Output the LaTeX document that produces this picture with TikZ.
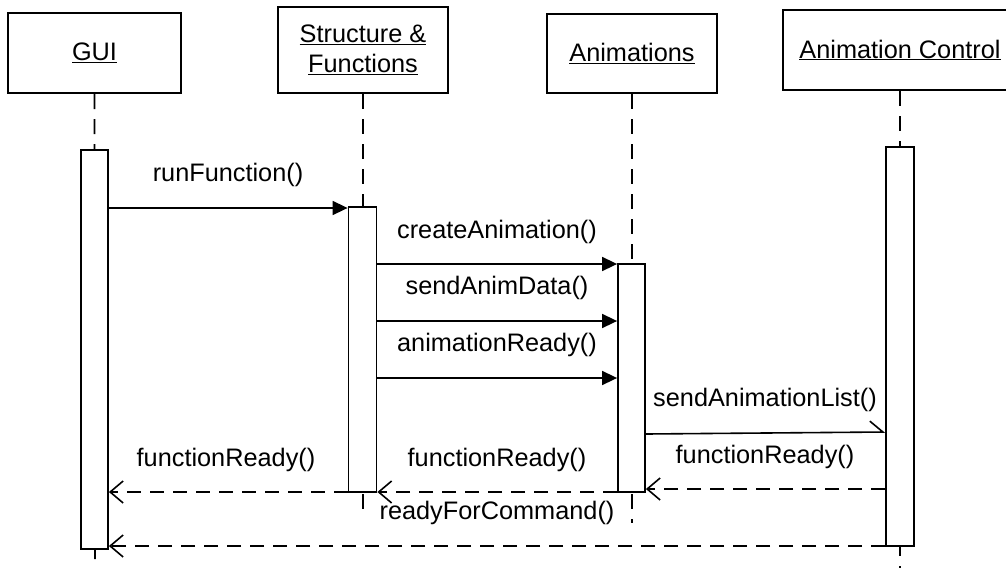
\documentclass[tikz,border=0pt]{standalone}
\usepackage{fontspec}
\setmainfont{Liberation Sans}
\usetikzlibrary{arrows.meta}
\begin{document}
\begin{tikzpicture}[x=1pt,y=-1pt,
  obj/.style={draw, line width=2pt, fill=white, inner sep=0pt, align=center,
    font=\fontsize{25.3}{30}\selectfont},
  bar/.style={draw, line width=1.8pt, fill=white, inner sep=0pt},
  life/.style={line width=1.8pt, dash pattern=on 15pt off 10pt},
  msg/.style={line width=1.6pt, -{Triangle[length=15pt,width=14pt]}},
  async/.style={line width=1.6pt, -{Straight Barb[harpoon,length=13pt,width=22pt]}},
  ret/.style={line width=1.6pt, dash pattern=on 14pt off 9pt,
    -{Straight Barb[length=13pt,width=22pt]}},
  lbl/.style={font=\fontsize{25.3}{30}\selectfont, inner sep=0pt},
]
\useasboundingbox (0,0) rectangle (1006,568);
\clip (0,0) rectangle (1006,568);

% objects
\node[obj, minimum width=173pt, minimum height=80pt] (gui) at (94.5,53) {\underline{GUI}};
\node[obj, minimum width=170pt, minimum height=86pt] (str) at (363,50) {\underline{Structure \&}\\\underline{Functions}};
\node[obj, minimum width=170pt, minimum height=79pt] (anim) at (632,53.5) {\underline{Animations}};
\node[obj, minimum width=234pt, minimum height=80pt] (ctrl) at (900,50) {\underline{Animation Control}};

% lifelines
\coordinate (guiend) at (95,568);
\coordinate (strend) at (363,513);
\coordinate (animend) at (632,523);
\coordinate (ctrlend) at (900,568);
\draw[life] (gui.south) -- (guiend);
\draw[life] (str.south) -- (strend);
\draw[life] (anim.south) -- (animend);
\draw[life] (ctrl.south) -- (ctrlend);

% activation bars
\node[bar, minimum width=27pt, minimum height=399pt] (guib) at (94.5,349.5) {};
\node[bar, minimum width=28pt, minimum height=285pt] (strb) at (362.5,349.5) {};
\node[bar, minimum width=27pt, minimum height=228pt] (animb) at (631.5,378) {};
\node[bar, minimum width=28pt, minimum height=399pt] (ctrlb) at (900,346.5) {};

% messages
\draw[msg] (guib.east |- 0,208) -- (strb.west |- 0,208);
\node[lbl] at (228,175) {runFunction()};
\draw[msg] (strb.east |- 0,264) -- (animb.west |- 0,264);
\node[lbl] at (497,232) {createAnimation()};
\draw[msg] (strb.east |- 0,321) -- (animb.west |- 0,321);
\node[lbl] at (497,288) {sendAnimData()};
\draw[msg] (strb.east |- 0,378) -- (animb.west |- 0,378);
\node[lbl] at (497,345) {animationReady()};
\draw[async] (animb.east |- 0,434) -- (ctrlb.west |- 0,432);
\node[lbl] at (765,400) {sendAnimationList()};

% returns
\draw[ret] (ctrlb.west |- 0,489) -- (animb.east |- 0,489);
\node[lbl] at (765,457) {functionReady()};
\draw[ret] (animb.west |- 0,492) -- (strb.east |- 0,492);
\node[lbl] at (497,460) {functionReady()};
\draw[ret] (strb.west |- 0,492) -- (guib.east |- 0,492);
\node[lbl] at (226,460) {functionReady()};
\draw[ret] (ctrlb.west |- 0,546) -- (guib.east |- 0,546);
\node[lbl] at (497,513) {readyForCommand()};
\end{tikzpicture}
\end{document}
